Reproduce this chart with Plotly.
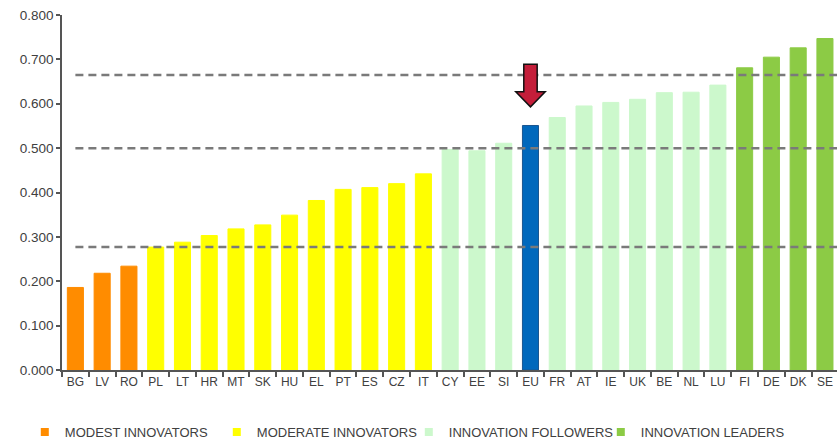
import plotly.graph_objects as go

# ---- data ----
countries = ["BG", "LV", "RO", "PL", "LT", "HR", "MT", "SK", "HU", "EL", "PT", "ES", "CZ", "IT",
             "CY", "EE", "SI", "EU", "FR", "AT", "IE", "UK", "BE", "NL", "LU", "FI", "DE", "DK", "SE"]
scores = [0.186, 0.218, 0.234, 0.277, 0.288, 0.303, 0.318, 0.327, 0.349, 0.382, 0.407, 0.411, 0.420, 0.442,
          0.497, 0.494, 0.511, 0.551, 0.569, 0.595, 0.603, 0.610, 0.625, 0.626, 0.642, 0.681, 0.705, 0.726, 0.747]
groups = ["MODEST INNOVATORS"] * 3 + ["MODERATE INNOVATORS"] * 11 + ["INNOVATION FOLLOWERS"] * 3 + ["EU"] + \
         ["INNOVATION FOLLOWERS"] * 7 + ["INNOVATION LEADERS"] * 4
group_names = ["MODEST INNOVATORS", "MODERATE INNOVATORS", "INNOVATION FOLLOWERS", "INNOVATION LEADERS"]
thresholds = [0.665, 0.500, 0.277]
y_ticks = [0.0, 0.1, 0.2, 0.3, 0.4, 0.5, 0.6, 0.7, 0.8]
highlight = "EU"

# ---- style ----
colors = {
    "MODEST INNOVATORS": "#FF8C00",
    "MODERATE INNOVATORS": "#FFFF00",
    "INNOVATION FOLLOWERS": "#CCF8CC",
    "INNOVATION LEADERS": "#8CCB45",
    "EU": "#0068BC",
}
FONT = "Liberation Sans, Arial, sans-serif"
TEXT = "#404040"

fig = go.Figure()
bar_colors = [colors[g] for g in groups]
line_colors = ["#1A5690" if g == "EU" else colors[g] for g in groups]
fig.add_trace(go.Bar(
    x=countries, y=scores, width=0.6,
    marker=dict(color=bar_colors, line=dict(color=line_colors, width=1)),
    showlegend=False, hoverinfo="x+y",
))

# legend entries (small squares)
for g in group_names:
    fig.add_trace(go.Scatter(
        x=[None], y=[None], mode="markers", name=g,
        marker=dict(symbol="square", size=8, color=colors[g]),
    ))

# threshold dashed lines
for t in thresholds:
    fig.add_shape(type="line", xref="x", yref="y", x0=0, x1=len(countries) - 0.5, y0=t, y1=t,
                  line=dict(color="#7A7A7A", width=2.5, dash="8px,5px"), layer="above")

# arrow above highlighted bar
i = countries.index(highlight)
v = scores[i]
sw, hw = 0.25, 0.55          # half widths (category units)
top, base, tip = v + 0.138, v + 0.076, v + 0.042
path = (f"M {i - sw} {top} L {i + sw} {top} L {i + sw} {base} L {i + hw} {base} "
        f"L {i} {tip} L {i - hw} {base} L {i - sw} {base} Z")
fig.add_shape(type="path", xref="x", yref="y", path=path,
              fillcolor="#C41E3A", line=dict(color="#111111", width=1.5), layer="above")

fig.update_layout(
    width=837, height=439,
    margin=dict(l=62, r=0, t=15, b=69, autoexpand=False),
    paper_bgcolor="white", plot_bgcolor="white",
    font=dict(family=FONT, color=TEXT, size=13),
    legend=dict(orientation="h", x=-0.048, xanchor="left", y=-0.175, yanchor="middle",
                font=dict(size=13, color=TEXT), entrywidth=147, entrywidthmode="pixels",
                itemwidth=30, tracegroupgap=0),
    xaxis=dict(
        type="category", range=[-0.5, 28.45], automargin=False, tickangle=0,
        showline=True, linecolor="#555555", linewidth=1.5,
        ticks="outside", tickson="boundaries", ticklen=5, tickcolor="#555555", tickwidth=1.5,
        tickfont=dict(size=12, color=TEXT), showgrid=False, zeroline=False,
    ),
    yaxis=dict(
        range=[0, 0.8], tickvals=y_ticks, tickformat=".3f", automargin=False,
        showline=True, linecolor="#555555", linewidth=1.5,
        ticks="outside", ticklen=4, tickcolor="#555555", tickwidth=1.5,
        tickfont=dict(size=13.5, color=TEXT), showgrid=False, zeroline=False,
    ),
)

fig.write_html(
    "out.html",
    config={"displayModeBar": False},
    post_script="document.body.style.margin='0px';document.body.style.overflow='hidden';",
)
